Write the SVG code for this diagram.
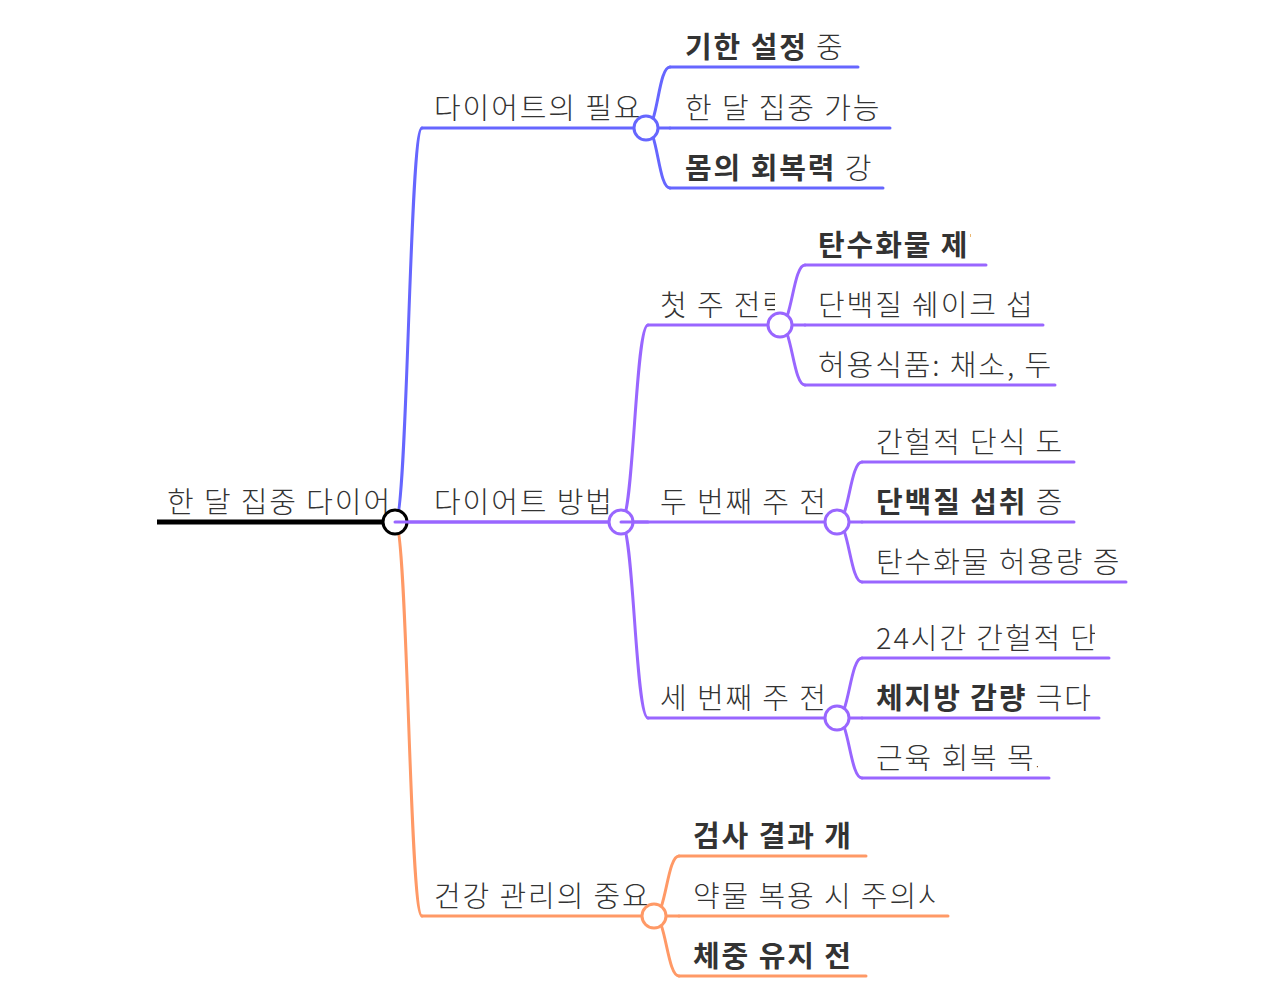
<svg xmlns="http://www.w3.org/2000/svg" width="1280" height="1000" viewBox="0 0 1280 1000">
<defs>
<style>
text{font-family:"Noto Sans CJK KR","Noto Sans",sans-serif;font-size:29px;letter-spacing:1.9px;fill:#333;font-weight:300;}
.b{font-weight:700;}
.ln{fill:none;stroke-width:3;stroke-linecap:round;}
.c1{stroke:#6666ff;}
.c2{stroke:#9966ff;}
.c3{stroke:#ff9966;}
.dot{fill:#fff;stroke-width:3;}
</style>
<clipPath id="k0"><rect x="150" y="465" width="238" height="55"/></clipPath>
<clipPath id="k1"><rect x="650" y="275" width="125" height="48"/></clipPath>
<clipPath id="k2"><rect x="810" y="215" width="161" height="48"/></clipPath>
<clipPath id="k3"><rect x="650" y="470" width="176" height="50"/></clipPath>
<clipPath id="k4"><rect x="650" y="665" width="176" height="50"/></clipPath>
<clipPath id="k5"><rect x="870" y="730" width="168" height="46"/></clipPath>
<clipPath id="k6"><rect x="685" y="865" width="251" height="49"/></clipPath>
<clipPath id="k7"><rect x="810" y="335" width="240" height="48"/></clipPath>
<clipPath id="k8"><rect x="870" y="610" width="225" height="46"/></clipPath>
</defs>
<rect width="1280" height="1000" fill="#fff"/>
<g id="connectors">
<path class="ln c1" d="M395 522C408 522 409 128 422 128"/>
<path class="ln c2" d="M395 522H621"/>
<path class="ln c3" d="M395 522C408 522 409 916 422 916"/>
<path class="ln c1" d="M646 128C658 128 658 67 670 67"/>
<path class="ln c1" d="M646 128H670"/>
<path class="ln c1" d="M646 128C658 128 658 188 670 188"/>
<path class="ln c2" d="M621 522C634 522 635 325 648 325"/>
<path class="ln c2" d="M621 522H648"/>
<path class="ln c2" d="M621 522C634 522 635 718 648 718"/>
<path class="ln c2" d="M780 325C792 325 793 265 805 265"/>
<path class="ln c2" d="M780 325H805"/>
<path class="ln c2" d="M780 325C792 325 793 385 805 385"/>
<path class="ln c2" d="M837 522C849 522 850 462 862 462"/>
<path class="ln c2" d="M837 522H862"/>
<path class="ln c2" d="M837 522C849 522 850 582 862 582"/>
<path class="ln c2" d="M837 718C849 718 850 658 862 658"/>
<path class="ln c2" d="M837 718H862"/>
<path class="ln c2" d="M837 718C849 718 850 778 862 778"/>
<path class="ln c3" d="M654 916C666 916 667 856 679 856"/>
<path class="ln c3" d="M654 916H679"/>
<path class="ln c3" d="M654 916C666 916 667 976 679 976"/>
</g>
<g id="root">
<path d="M157 522H395" stroke="#000" stroke-width="5" fill="none"/>
<text x="167" y="513" clip-path="url(#k0)">한 달 집중 다이어</text>
<circle cx="395" cy="522" r="12" fill="#fff" stroke="#000" stroke-width="3"/>
</g>
<g id="n-need">
<path class="ln c1" d="M422 128H646"/>
<text x="434" y="119">다이어트의 필요</text>
<circle class="dot c1" cx="646" cy="128" r="12"/>
</g>
<g id="n-need-1"><path class="ln c1" d="M670 67H858"/><text x="685" y="58"><tspan class="b">기한 설정</tspan> 중</text></g>
<g id="n-need-2"><path class="ln c1" d="M670 128H890"/><text x="685" y="119">한 달 집중 가능</text></g>
<g id="n-need-3"><path class="ln c1" d="M670 188H883"/><text x="685" y="179"><tspan class="b">몸의 회복력</tspan> 강</text></g>
<g id="n-method">
<path class="ln c2" d="M395 522H621"/>
<text x="434" y="513">다이어트 방법</text>
<circle class="dot c2" cx="621" cy="522" r="12"/>
</g>
<g id="n-w1">
<path class="ln c2" d="M648 325H780"/>
<text x="660" y="316" clip-path="url(#k1)">첫 주 전략</text>
<circle class="dot c2" cx="780" cy="325" r="12"/>
</g>
<g id="n-w1-1"><path class="ln c2" d="M805 265H986"/><text class="b" x="818" y="256" clip-path="url(#k2)">탄수화물 제한</text></g>
<g id="n-w1-2"><path class="ln c2" d="M805 325H1043"/><text x="818" y="316">단백질 쉐이크 섭</text></g>
<g id="n-w1-3"><path class="ln c2" d="M805 385H1055"/><text x="818" y="376" clip-path="url(#k7)">허용식품: 채소, 두</text></g>
<g id="n-w2">
<path class="ln c2" d="M621 522H837"/>
<text x="660" y="513" clip-path="url(#k3)">두 번째 주 전</text>
<circle class="dot c2" cx="837" cy="522" r="12"/>
</g>
<g id="n-w2-1"><path class="ln c2" d="M862 462H1074"/><text x="876" y="453">간헐적 단식 도</text></g>
<g id="n-w2-2"><path class="ln c2" d="M862 522H1074"/><text x="876" y="513"><tspan class="b">단백질 섭취</tspan> 증</text></g>
<g id="n-w2-3"><path class="ln c2" d="M862 582H1126"/><text x="876" y="573">탄수화물 허용량 증</text></g>
<g id="n-w3">
<path class="ln c2" d="M648 718H837"/>
<text x="660" y="709" clip-path="url(#k4)">세 번째 주 전</text>
<circle class="dot c2" cx="837" cy="718" r="12"/>
</g>
<g id="n-w3-1"><path class="ln c2" d="M862 658H1109"/><text x="876" y="649" clip-path="url(#k8)">24시간 간헐적 단</text></g>
<g id="n-w3-2"><path class="ln c2" d="M862 718H1099"/><text x="876" y="709"><tspan class="b">체지방 감량</tspan> 극다</text></g>
<g id="n-w3-3"><path class="ln c2" d="M862 778H1049"/><text x="876" y="769" clip-path="url(#k5)">근육 회복 목표</text></g>
<g id="n-health">
<path class="ln c3" d="M422 916H654"/>
<text x="434" y="907">건강 관리의 중요</text>
<circle class="dot c3" cx="654" cy="916" r="12"/>
</g>
<g id="n-health-1"><path class="ln c3" d="M679 856H866"/><text class="b" x="693" y="847">검사 결과 개</text></g>
<g id="n-health-2"><path class="ln c3" d="M679 916H948"/><text x="693" y="907" clip-path="url(#k6)">약물 복용 시 주의사항</text></g>
<g id="n-health-3"><path class="ln c3" d="M679 976H866"/><text class="b" x="693" y="967">체중 유지 전</text></g>
</svg>
